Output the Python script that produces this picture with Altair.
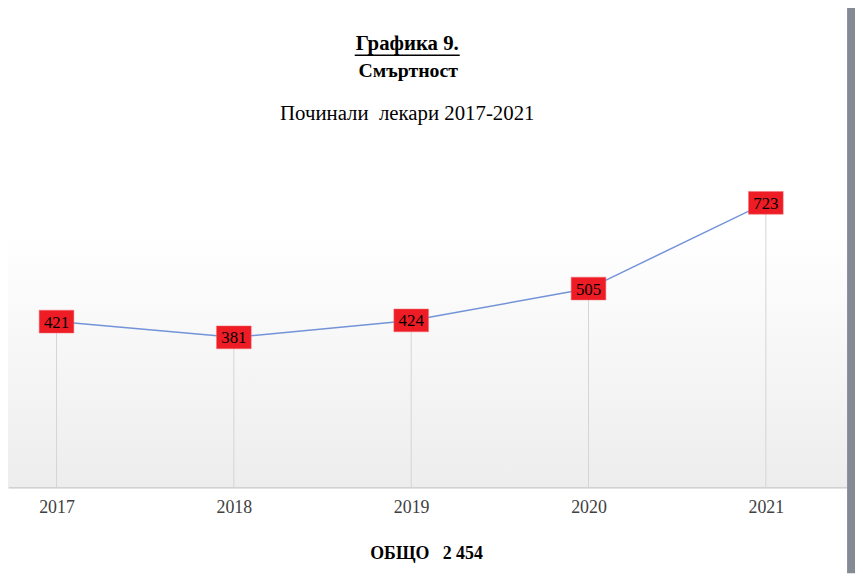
import altair as alt
import pandas as pd

years = [2017, 2018, 2019, 2020, 2021]
deaths = [421, 381, 424, 505, 723]
title_main = "Графика 9."
title_sub = "Смъртност"
subtitle = "Починали\u00a0 лекари 2017-2021"
total_label = "ОБЩО"
total = sum(deaths)
total_text = f"{total_label}\u00a0\u00a0\u00a0{total:,}".replace(",", " ")

df = pd.DataFrame({"year": years, "deaths": deaths, "zero": [0] * len(years)})
one = pd.DataFrame({"k": [0]})

W, H = 847, 341
SERIF = "Liberation Serif"

xs = alt.Scale(domain=[2016.7263, 2021.4581], nice=False, zero=False)
ys = alt.Scale(domain=[0, 859], nice=False)

x = alt.X("year:Q", scale=xs,
          axis=alt.Axis(values=years, format="d", ticks=False, grid=False,
                        domainColor="#c8c8c8", domainWidth=1.5,
                        labelFont=SERIF, labelFontSize=18, labelColor="#404040",
                        labelPadding=12, title=total_text, titleFont=SERIF,
                        titleFontSize=18, titleFontWeight="bold", titleColor="#000000",
                        titlePadding=28, titleX=422))
y = alt.Y("deaths:Q", scale=ys, axis=None)

base = alt.Chart(df)
deco = alt.Chart(one)

bg = deco.mark_rect(color=alt.Gradient(
    gradient="linear",
    stops=[alt.GradientStop(color="#ffffff", offset=0),
           alt.GradientStop(color="#ffffff", offset=0.2),
           alt.GradientStop(color="#ededed", offset=1)],
    x1=0, x2=0, y1=0, y2=1)).encode(
    x=alt.value(0), x2=alt.value(W), y=alt.value(20), y2=alt.value(H))

shadow = deco.mark_rect(color="#858b95").encode(
    x=alt.value(W), x2=alt.value(W + 8), y=alt.value(-148), y2=alt.value(H + 87))

drops = base.mark_rule(color="#d4d4d4", strokeWidth=1).encode(
    x=x, y=y, y2=alt.Y2("zero:Q"))

line = base.mark_line(color="#7393d9", strokeWidth=1.5).encode(x=x, y=y)

boxes = base.mark_point(shape="M-1,-0.657L1,-0.657L1,0.657L-1,0.657Z", filled=True,
                        size=1225, color="#ee1c25", opacity=1, stroke="#f36b70",
                        strokeWidth=0.5).encode(x=x, y=y)

labels = base.mark_text(font=SERIF, fontSize=17, color="#000000", baseline="middle",
                        dy=1).encode(x=x, y=y, text="deaths:Q")

t1 = deco.mark_text(font=SERIF, fontSize=21, fontWeight="bold", color="#000000",
                    baseline="middle").encode(
    x=alt.value(403), y=alt.value(-106), text=alt.value(title_main))
t2 = deco.mark_text(font=SERIF, fontSize=20, fontWeight="bold", color="#000000",
                    baseline="middle").encode(
    x=alt.value(404), y=alt.value(-79), text=alt.value(title_sub))
t3 = deco.mark_text(font=SERIF, fontSize=21, color="#000000",
                    baseline="middle").encode(
    x=alt.value(403), y=alt.value(-36), text=alt.value(subtitle))

underline = deco.mark_rule(color="#000000", strokeWidth=1.3).encode(
    x=alt.value(350), x2=alt.value(456), y=alt.value(-95))

chart = alt.layer(bg, shadow, drops, line, boxes, labels, t1, t2, t3, underline).properties(
    width=W, height=H,
    background="#ffffff",
    padding={"top": 140, "left": 0, "right": 8, "bottom": 87},
    autosize=alt.AutoSizeParams(type="none"),
).configure_view(strokeWidth=0)

chart.save("out.html", embed_options={"renderer": "svg", "actions": False})
